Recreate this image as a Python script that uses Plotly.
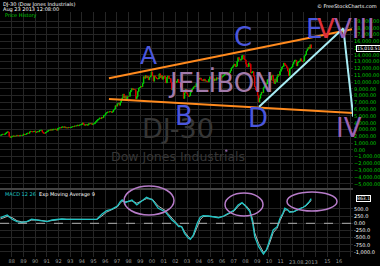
import plotly.graph_objects as go
import pandas as pd

# ---------------- data ----------------
first_month = "1987-01-01"
dow_close = [
    2158, 2224, 2305, 2286, 2292, 2419, 2573, 2663, 2596, 1994, 1834, 1939,
    1958, 2072, 1988, 2032, 2031, 2142, 2129, 2032, 2113, 2149, 2115, 2169,
    2342, 2259, 2294, 2419, 2480, 2440, 2661, 2737, 2693, 2645, 2706, 2753,
    2591, 2627, 2707, 2657, 2877, 2881, 2905, 2614, 2453, 2442, 2560, 2634,
    2736, 2882, 2914, 2888, 3028, 2907, 3025, 3044, 3017, 3070, 2895, 3169,
    3224, 3268, 3236, 3359, 3397, 3319, 3394, 3257, 3272, 3226, 3305, 3301,
    3310, 3371, 3436, 3428, 3528, 3516, 3540, 3651, 3555, 3681, 3684, 3754,
    3978, 3833, 3636, 3682, 3758, 3625, 3765, 3913, 3843, 3908, 3739, 3834,
    3844, 4011, 4158, 4321, 4465, 4556, 4709, 4611, 4789, 4756, 5075, 5117,
    5395, 5486, 5588, 5569, 5643, 5655, 5529, 5616, 5882, 6029, 6522, 6448,
    6813, 6878, 6584, 7009, 7331, 7673, 8223, 7622, 7945, 7442, 7823, 7908,
    7907, 8546, 8800, 9063, 8900, 8952, 8883, 7539, 7843, 8592, 9117, 9181,
    9359, 9307, 9786, 10789, 10560, 10971, 10655, 10829, 10337, 10730, 10878, 11497,
    10941, 10128, 10922, 10734, 10522, 10448, 10522, 11215, 10651, 10971, 10415, 10788,
    10887, 10495, 9879, 10735, 10912, 10502, 10523, 9950, 8848, 9075, 9852, 10022,
    9920, 10106, 10404, 9946, 9925, 9243, 8737, 8664, 7592, 8397, 8896, 8342,
    8054, 7891, 7992, 8480, 8850, 8985, 9234, 9416, 9275, 9801, 9782, 10454,
    10488, 10584, 10358, 10226, 10188, 10435, 10140, 10174, 10080, 10027, 10428, 10783,
    10490, 10766, 10504, 10193, 10467, 10275, 10641, 10482, 10569, 10440, 10806, 10718,
    10865, 10993, 11109, 11367, 11168, 11150, 11186, 11381, 11679, 12081, 12222, 12463,
    12622, 12269, 12354, 13063, 13628, 13409, 13212, 13358, 13896, 13930, 13372, 13265,
    12650, 12266, 12263, 12820, 12638, 11350, 11378, 11544, 10851, 9325, 8829, 8776,
    8001, 7063, 7609, 8168, 8500, 8447, 9172, 9496, 9712, 9713, 10345, 10428,
    10067, 10325, 10857, 11009, 10137, 9774, 10466, 10015, 10788, 11118, 11006, 11578,
    11892, 12226, 12320, 12811, 12570, 12414, 12143, 11614, 10913, 11955, 12046, 12218,
    12633, 12952, 13212, 13214, 12393, 12880, 13009, 13091, 13437, 13096, 13026, 13104,
    13861, 14054, 14579, 14840, 15116, 14910, 15500, 15010.51,
]
last_price = 15010.51

macd_dates = [
    "1987-01", "1987-08", "1988-01", "1988-06", "1988-11", "1989-04", "1989-09",
    "1990-02", "1990-07", "1991-01", "1991-06", "1991-11", "1992-04", "1992-09",
    "1993-02", "1993-07", "1994-01", "1994-06", "1994-11", "1995-04", "1995-09",
    "1996-02", "1996-07", "1997-01", "1997-04", "1997-06", "1997-09", "1998-04",
    "1998-09", "1999-07", "2000-01", "2000-07", "2001-02", "2001-05", "2001-09",
    "2002-01", "2002-04", "2002-07", "2002-10", "2003-02", "2003-04", "2003-07",
    "2003-11", "2004-02", "2004-05", "2004-10", "2005-04", "2005-09", "2006-02",
    "2006-07", "2007-01", "2007-05", "2007-09", "2008-01", "2008-05", "2008-08",
    "2008-10", "2009-02", "2009-05", "2009-07", "2009-10", "2010-01", "2010-05",
    "2010-09", "2010-12", "2011-03", "2011-05", "2011-08", "2011-10", "2012-02",
    "2012-05", "2012-09", "2012-12", "2013-03", "2013-06", "2013-08",
]
macd_values = [
    195, 290, 140, 56, 35, 56, 140,
    115, 91, 56, 115, 140, 150, 140,
    140, 150, 140, 140, 126, 140, 314,
    440, 488, 603, 754, 813, 719, 813,
    638, 907, 813, 523, 405, 290, 115,
    0, -116, -116, -349, -523, -558, -408,
    0, 209, 265, 255, 230, 195, 255,
    349, 465, 638, 719, 580, 405, 0,
    -465, -814, -988, -1070, -930, -640, -233,
    -116, 175, 349, 523, 465, 384, 405,
    465, 523, 558, 638, 754, 863.1,
]
signal_values = [
    150, 240, 200, 90, 50, 50, 110,
    120, 100, 70, 95, 130, 145, 142,
    140, 145, 142, 140, 132, 135, 250,
    390, 470, 570, 700, 770, 750, 780,
    700, 860, 840, 600, 450, 340, 170,
    40, -80, -110, -290, -470, -530, -460,
    -100, 120, 230, 250, 235, 205, 240,
    320, 430, 590, 700, 620, 460, 120,
    -330, -700, -920, -1010, -950, -720, -330,
    -170, 90, 280, 460, 470, 410, 400,
    450, 505, 545, 615, 720, 800,
]
macd_last = 863.1

year_ticks = list(range(1987, 2018))
year_labels = ["" if y in (1987, 2012, 2013, 2014, 2017) else f"{y % 100:02d}" for y in year_ticks]
price_ticks = list(range(-5000, 20000, 1000))
macd_ticks = [500, 250, 0, -250, -500, -750, -1000]
macd_ticklabels = ["500.0", "250.0", "0.00", "-250.0", "-500.0", "-750.0", "-1,000.0"]

# ---------------- derived ----------------
dates = pd.date_range(first_month, periods=len(dow_close), freq="MS") + pd.Timedelta(days=14)
opens = [dow_close[0]] + dow_close[:-1]
highs = [max(o, c) for o, c in zip(opens, dow_close)]
lows = [min(o, c) for o, c in zip(opens, dow_close)]

W, H = 380, 266
L, R, T, B = 0, 27, 12, 9
PW, PH = W - L - R, H - T - B


def fx(px):
    return (px - L) / PW


def fy(py):
    return (H - B - py) / PH


FONT = "DejaVu Sans"
GRID = "#252525"

fig = go.Figure()
fig.add_trace(go.Candlestick(
    x=dates, open=opens, high=highs, low=lows, close=dow_close,
    increasing=dict(line=dict(color="#00d200", width=1), fillcolor="#00d200"),
    decreasing=dict(line=dict(color="#d40000", width=1), fillcolor="#d40000"),
    xaxis="x", yaxis="y", showlegend=False, hoverinfo="skip",
))
fig.add_trace(go.Scatter(
    x=pd.to_datetime(macd_dates) + pd.Timedelta(days=14), y=signal_values, mode="lines",
    line=dict(color="#b4b4b4", width=1), xaxis="x2", yaxis="y2", showlegend=False,
))
fig.add_trace(go.Scatter(
    x=pd.to_datetime(macd_dates) + pd.Timedelta(days=14), y=macd_values, mode="lines",
    line=dict(color="#1fc4c4", width=1.3), xaxis="x2", yaxis="y2", showlegend=False,
))

xrange = ["1987-01-01", "2017-03-13"]
main_top, main_bot = 12, 188
macd_top, macd_bot = 190, 257

fig.update_layout(
    width=W, height=H, margin=dict(l=L, r=R, t=T, b=B),
    paper_bgcolor="#000000", plot_bgcolor="#000000",
    font=dict(family=FONT, size=5, color="#ffffff"),
    xaxis=dict(domain=[0, 1], anchor="y", range=xrange, type="date",
               tickvals=[f"{y}-01-01" for y in year_ticks], showticklabels=False,
               showgrid=True, gridcolor=GRID, gridwidth=1, zeroline=False,
               rangeslider=dict(visible=False), fixedrange=True),
    yaxis=dict(domain=[fy(main_bot), fy(main_top)], anchor="x", side="right",
               range=[-5620, 20330], tickvals=price_ticks, tickformat=",.2f",
               tickfont=dict(color="#00d000", size=5), showgrid=True, gridcolor=GRID,
               zeroline=False, ticks="", ),
    xaxis2=dict(domain=[0, 1], anchor="y2", range=xrange, type="date", matches="x",
                tickvals=[f"{y}-01-01" for y in year_ticks], ticktext=year_labels,
                tickfont=dict(color="#9a9a9a", size=5), showgrid=True, gridcolor=GRID,
                zeroline=False, ticks="", ticklen=0),
    yaxis2=dict(domain=[0, fy(macd_top)], anchor="x2", side="right",
                range=[-1175, 1161], tickvals=macd_ticks, ticktext=macd_ticklabels,
                tickfont=dict(color="#ffffff", size=5), showgrid=True, gridcolor=GRID,
                zeroline=False, ticks=""),
)

shapes = []
# panel separator
shapes.append(dict(type="line", xref="paper", yref="paper", x0=0, x1=1,
                   y0=fy(189), y1=fy(189), line=dict(color="#5a5a5a", width=1.5)))
# MACD zero line
shapes.append(dict(type="line", xref="x2", yref="y2", x0=xrange[0], x1=xrange[1],
                   y0=0, y1=0, line=dict(color="#b0b0b0", width=1, dash="dash")))
# trend lines
ORANGE = "#ff8a1e"
shapes.append(dict(type="line", xref="x", yref="y", x0="1996-04-26", y0=10556,
                   x1="2017-02-10", y1=17780, line=dict(color=ORANGE, width=2)))
shapes.append(dict(type="line", xref="x", yref="y", x0="1996-04-26", y0=7504,
                   x1="2017-06-13", y1=5396, line=dict(color=ORANGE, width=2)))
LB = "#a8ecf4"
shapes.append(dict(type="line", xref="x", yref="y", x0="2009-03-01", y0=6369,
                   x1="2016-05-15", y1=17927, line=dict(color=LB, width=2)))
shapes.append(dict(type="line", xref="x", yref="y", x0="2016-05-15", y0=17927,
                   x1="2017-03-20", y1=4895, line=dict(color=LB, width=2)))
# ellipses on MACD
PURP = "#b77cc9"
for (x0, x1, y0, y1) in [(124, 174, 186, 215), (225, 263, 193, 216), (287, 337, 192, 211)]:
    shapes.append(dict(type="circle", xref="paper", yref="paper",
                       x0=fx(x0), x1=fx(x1), y0=fy(y1), y1=fy(y0),
                       line=dict(color=PURP, width=1.5)))
# small dot
shapes.append(dict(type="circle", xref="paper", yref="paper",
                   x0=fx(225), x1=fx(227.5), y0=fy(152), y1=fy(149.5),
                   fillcolor="#8a5a9a", line=dict(width=0)))
fig.update_layout(shapes=shapes)

ann = []


def txt(text, x, y, size, color, xanchor="center", yanchor="middle", **kw):
    ann.append(dict(text=text, xref="paper", yref="paper", x=fx(x), y=fy(y),
                    xanchor=xanchor, yanchor=yanchor, showarrow=False,
                    font=dict(family=FONT, size=size, color=color), **kw))


# header
txt("DJ-30 (Dow Jones Industrials)", 1, 3.5, 5, "#ffffff", xanchor="left")
txt("Aug 23 2013 12:08:00", 1, 10, 5, "#ffffff", xanchor="left")
txt("Price History", 3, 16, 5, "#00d000", xanchor="left")
txt("© FreeStockCharts.com", 379, 6, 5, "#ffffff", xanchor="right")
# watermark
txt("DJ-30", 177.5, 128, 27, "#363636")
txt("Dow Jones Industrials", 177.5, 156, 12.5, "#363636")
# drawing labels
BLUE = "#4b57dd"
VIO = "#9b62b3"
txt("JELİBON", 221, 82, 26, "#a27aaa")
txt("A", 148.5, 55, 25, BLUE)
txt("B", 183.5, 116, 26, BLUE)
txt("C", 242.5, 37, 26, BLUE)
txt("D", 257.5, 118, 26, BLUE)
txt("E", 313.5, 29, 26, BLUE)
txt("V", 325.5, 29, 26, "#e0303a")
txt("VIII", 332, 29, 26, VIO, xanchor="left")
txt("IV", 349, 128, 26, VIO)
# MACD title
txt("<span style='color:#1fc4c4'>MACD 12 26</span>  Exp Moving Average 9", 2.5, 194, 5,
    "#ffffff", xanchor="left")
# x date label
txt("23.08.2013", 303, 262, 5, "#9a9a9a")
# last value boxes
ann.append(dict(text=f"{last_price:,.2f}", xref="paper", yref="y", x=fx(356), y=last_price,
                xanchor="left", yanchor="middle", showarrow=False, bgcolor="#000000",
                bordercolor="#ffffff", borderwidth=1, borderpad=0,
                font=dict(family=FONT, size=4.6, color="#ffffff")))
ann.append(dict(text=f"{macd_last:.1f}", xref="paper", yref="y2", x=fx(356), y=macd_last,
                xanchor="left", yanchor="middle", showarrow=False, bgcolor="#000000",
                bordercolor="#ffffff", borderwidth=1, borderpad=0,
                font=dict(family=FONT, size=4.6, color="#ffffff")))
fig.update_layout(annotations=ann)

fig.write_html("out.html")
